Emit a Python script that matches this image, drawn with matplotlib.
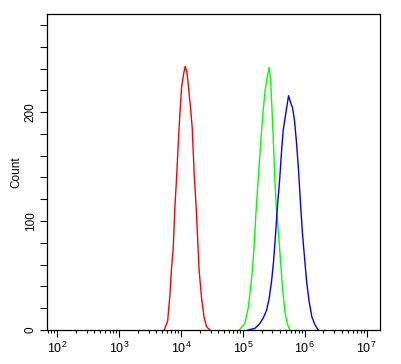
import numpy as np
import matplotlib
matplotlib.use("Agg")
import matplotlib.pyplot as plt
from matplotlib.ticker import LogLocator, MultipleLocator, NullFormatter

plt.rcParams['font.family'] = ['Liberation Sans', 'DejaVu Sans']
plt.rcParams['mathtext.fontset'] = 'custom'
plt.rcParams['mathtext.rm'] = 'Liberation Sans'

# log10 of fluorescence intensity vs count
red_log = [3.729, 3.784, 3.821, 3.848, 3.874, 3.901, 3.929, 3.955, 3.982, 4.010, 4.042, 4.068,
           4.095, 4.116, 4.149, 4.181, 4.213, 4.246, 4.268, 4.294, 4.333, 4.375, 4.414, 4.467]
red_cnt = [0, 8, 32, 57, 75, 112, 140, 170, 198, 223, 235, 242,
           237, 226, 207, 186, 143, 112, 85, 54, 29, 11, 3, 0]

green_log = [4.940, 5.032, 5.086, 5.124, 5.157, 5.183, 5.210, 5.242, 5.275, 5.302, 5.328, 5.360,
             5.393, 5.425, 5.448, 5.469, 5.490, 5.517, 5.544, 5.577, 5.609, 5.641, 5.679, 5.716, 5.759]
green_cnt = [0, 6, 20, 38, 57, 78, 106, 134, 161, 183, 201, 220,
             232, 241, 229, 204, 177, 137, 109, 88, 63, 38, 17, 6, 0]

blue_log = [5.086, 5.194, 5.275, 5.328, 5.383, 5.425, 5.464, 5.496, 5.528, 5.561, 5.593, 5.625,
            5.651, 5.683, 5.716, 5.738, 5.770, 5.803, 5.835, 5.868, 5.900, 5.932, 5.964, 5.997,
            6.029, 6.071, 6.115, 6.163, 6.217]
blue_cnt = [0, 1.5, 6, 11, 18, 29, 45, 63, 88, 115, 137, 164,
            183, 195, 207, 215, 209, 204, 192, 171, 146, 115, 88, 66,
            45, 26, 12, 5, 0]

fig = plt.figure(figsize=(4.02, 3.64), dpi=100)
ax = fig.add_axes([0.116, 0.0934, 0.829, 0.868])

ax.plot(10 ** np.array(red_log), red_cnt, color='#ff0000', lw=1.0)
ax.plot(10 ** np.array(green_log), green_cnt, color='#00ff00', lw=1.0)
ax.plot(10 ** np.array(blue_log), blue_cnt, color='#0000ff', lw=1.0)

ax.set_xscale('log')
ax.set_xlim(10 ** 1.829, 10 ** 7.214)
ax.set_ylim(0, 290)

ax.xaxis.set_major_locator(LogLocator(base=10, numticks=10))
ax.xaxis.set_minor_locator(LogLocator(base=10, subs=np.arange(2, 10), numticks=20))
ax.xaxis.set_minor_formatter(NullFormatter())
ax.yaxis.set_major_locator(MultipleLocator(100))
ax.yaxis.set_minor_locator(MultipleLocator(20))

ax.tick_params(axis='x', which='major', length=5, width=0.8, labelsize=9, pad=3)
ax.tick_params(axis='x', which='minor', length=2.5, width=0.8)
ax.tick_params(axis='y', which='both', length=5, width=0.8, labelsize=8.5, pad=2)
for lbl in ax.get_yticklabels():
    lbl.set_rotation(90)
    lbl.set_va('center')

for s in ax.spines.values():
    s.set_linewidth(0.9)

ax.set_ylabel('Count', fontsize=8.5, labelpad=2)

fig.savefig('out.png', dpi=100)
